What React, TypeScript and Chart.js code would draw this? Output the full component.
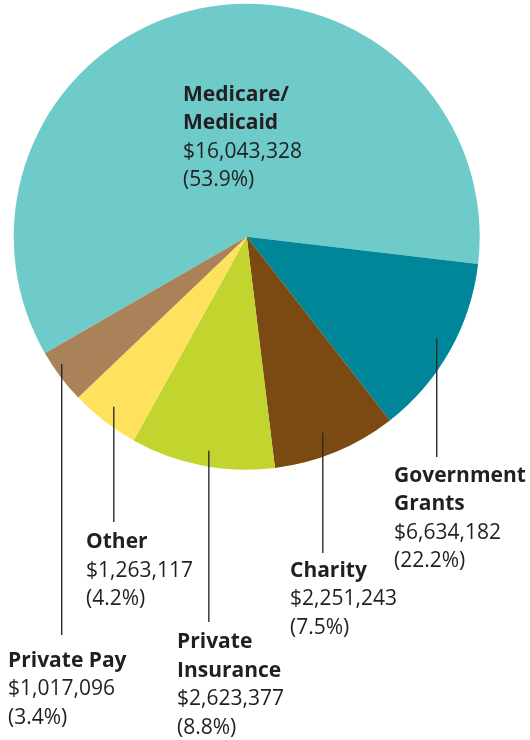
import { useEffect, useRef } from 'react';
import { Chart, ChartConfiguration, Plugin, registerables } from 'chart.js';

Chart.register(...registerables);

// funding sources, in drawing order (clockwise from the lower left)
const categories = ['Medicare/Medicaid', 'Government Grants', 'Charity', 'Private Insurance', 'Other', 'Private Pay'];
const titleLines = [['Medicare/', 'Medicaid'], ['Government', 'Grants'], ['Charity'], ['Private', 'Insurance'], ['Other'], ['Private Pay']];
const amounts = [16043328, 6634182, 2251243, 2623377, 1263117, 1017096];
const percents = [53.9, 22.2, 7.5, 8.8, 4.2, 3.4];
// slice sizes as drawn in the original graphic (they differ from the printed shares)
const sliceShares = [60.2, 12.6, 8.6, 10.0, 4.8, 3.8];
const colors = ['#6FCBC9', '#008699', '#7B4A12', '#C2D42E', '#FEE15D', '#A9825A'];

const FONT = '"Open Sans", "DejaVu Sans", sans-serif';
const LINE_H = 28.5;

// where each label sits; leader lines start inside the slice
// (t = position across the slice angle, f = fraction of radius)
const labelLayout = [
  { x: 183, y: 100.7, t: 0.5, f: 0, lineEnd: 0 },
  { x: 394, y: 481.7, t: 0.475, f: 0.926, lineEnd: 457 },
  { x: 290, y: 576.7, t: 0.54, f: 0.903, lineEnd: 553 },
  { x: 177, y: 648.3, t: 0.472, f: 0.933, lineEnd: 622 },
  { x: 86, y: 548.3, t: 0.52, f: 0.926, lineEnd: 522 },
  { x: 8, y: 666.7, t: 0.667, f: 0.964, lineEnd: 635 },
];

const fmtMoney = (v: number) => '$' + v.toLocaleString('en-US');

const calloutPlugin: Plugin<'pie'> = {
  id: 'callouts',
  afterDraw(chart) {
    const ctx = chart.ctx;
    const arcs = chart.getDatasetMeta(0).data as any[];
    ctx.save();
    arcs.forEach((arc, i) => {
      const { x, y, startAngle, endAngle, outerRadius } = arc.getProps(['x', 'y', 'startAngle', 'endAngle', 'outerRadius'], true);
      const lay = labelLayout[i];
      if (lay.f > 0) {
        const a = startAngle + (endAngle - startAngle) * lay.t;
        const ax = x + Math.cos(a) * outerRadius * lay.f;
        const ay = y + Math.sin(a) * outerRadius * lay.f;
        ctx.strokeStyle = '#2b2b2b';
        ctx.lineWidth = 1.4;
        ctx.beginPath();
        ctx.moveTo(ax, ay);
        ctx.lineTo(ax, lay.lineEnd);
        ctx.stroke();
      }
      ctx.fillStyle = '#231F20';
      ctx.textAlign = 'left';
      ctx.textBaseline = 'alphabetic';
      let ty = lay.y;
      ctx.font = `bold 21px ${FONT}`;
      titleLines[i].forEach(t => {
        ctx.fillText(t, lay.x, ty);
        ty += LINE_H;
      });
      ctx.font = `21px ${FONT}`;
      ctx.fillText(fmtMoney(amounts[i]), lay.x, ty);
      ty += LINE_H;
      ctx.fillText(`(${percents[i]}%)`, lay.x, ty);
    });
    ctx.restore();
  }
};

export default function App() {
  const canvasRef = useRef<HTMLCanvasElement | null>(null);

  useEffect(() => {
    if (!canvasRef.current) return;

    const config: ChartConfiguration<'pie'> = {
      type: 'pie',
      data: {
        labels: categories,
        datasets: [
          {
            data: sliceShares,
            backgroundColor: colors,
            borderWidth: 0
          }
        ]
      },
      options: {
        responsive: true,
        maintainAspectRatio: false,
        animation: false,
        rotation: 240,
        layout: {
          padding: { left: 13.7, top: 3.7, right: 50.3, bottom: 270.3 }
        },
        plugins: {
          legend: { display: false },
          tooltip: { enabled: false }
        }
      },
      plugins: [calloutPlugin]
    };

    const chart = new Chart(canvasRef.current, config);
    return () => chart.destroy();
  }, []);

  return (
    <div style={{ position: 'absolute', left: 0, top: 0, width: 530, height: 740, background: '#fff' }}>
      <canvas ref={canvasRef} />
    </div>
  );
}
